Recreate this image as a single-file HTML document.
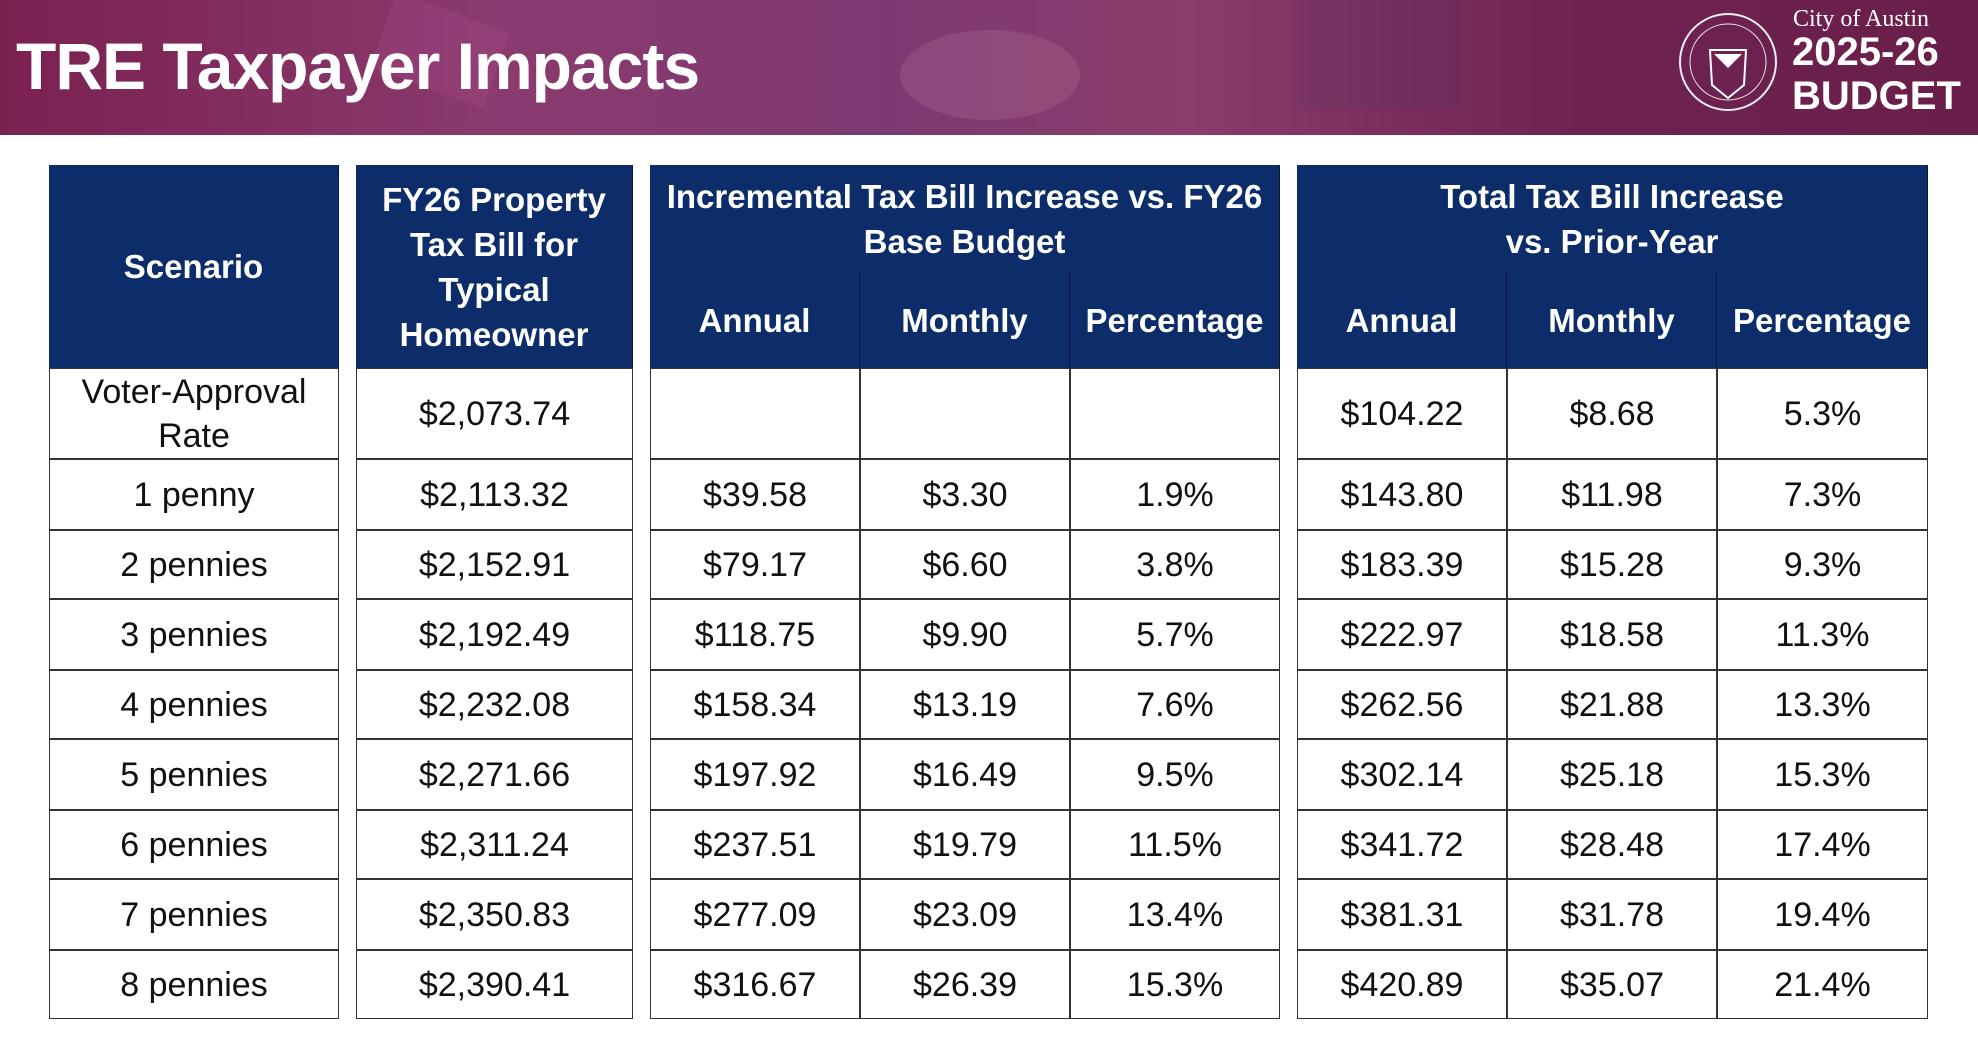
<!DOCTYPE html>
<html><head><meta charset="utf-8">
<style>
body{margin:0;width:1978px;height:1042px;background:#fff;position:relative;overflow:hidden;font-family:"Liberation Sans Narrow","Liberation Sans",sans-serif}
#banner{position:absolute;left:0;top:0;width:1978px;height:135px;background:linear-gradient(90deg,#7a2150 0%,#8a3a6e 25%,#7d3a72 45%,#8a3c6a 60%,#6e2252 80%,#6a1f4a 100%)}
#banner .tile{position:absolute;opacity:.15}
#title{position:absolute;left:16px;top:28px;color:#fff;font-family:"Liberation Sans",sans-serif;font-weight:bold;font-size:66px;letter-spacing:-1px}
.cell{position:absolute;display:flex;align-items:center;justify-content:center;text-align:center;box-sizing:border-box}
.h{background:#0c2d69;color:#fff;font-weight:bold;font-size:33px;line-height:45px}
.d{color:#111;font-size:34px;line-height:44px;border:1.5px solid #333}
</style></head><body>
<div id="banner">
<div class="tile" style="left:380px;top:10px;width:120px;height:80px;background:#c6a;transform:rotate(20deg)"></div>
<div class="tile" style="left:900px;top:30px;width:180px;height:90px;background:#dab;border-radius:50%"></div>
<div class="tile" style="left:1300px;top:0;width:160px;height:110px;background:#436;"></div>
<div id="title">TRE Taxpayer Impacts</div>
<svg style="position:absolute;left:1678px;top:10px" width="100" height="105"><circle cx="50" cy="52" r="48" fill="none" stroke="#eee" stroke-width="2"/><circle cx="50" cy="52" r="38" fill="none" stroke="#eee" stroke-width="1"/><path d="M32 40 L68 40 L66 75 L50 88 L34 75 Z" fill="none" stroke="#fff" stroke-width="2"/><path d="M36 44 L64 44 L50 58 Z" fill="#fff"/></svg>
<div style="position:absolute;left:1793px;top:6px;color:#fff;font-family:'Liberation Serif',serif;font-size:24px">City of Austin</div>
<div style="position:absolute;left:1792px;top:30px;color:#fff;font-family:'Liberation Sans',sans-serif;font-weight:bold;font-size:40px;line-height:44px">2025-26<br>BUDGET</div>
</div>
<div id="tbl"></div>
<script>
const scenarios=["Voter-Approval Rate","1 penny","2 pennies","3 pennies","4 pennies","5 pennies","6 pennies","7 pennies","8 pennies"];
const fy26Bill=["$2,073.74","$2,113.32","$2,152.91","$2,192.49","$2,232.08","$2,271.66","$2,311.24","$2,350.83","$2,390.41"];
const incAnnual=["","$39.58","$79.17","$118.75","$158.34","$197.92","$237.51","$277.09","$316.67"];
const incMonthly=["","$3.30","$6.60","$9.90","$13.19","$16.49","$19.79","$23.09","$26.39"];
const incPct=["","1.9%","3.8%","5.7%","7.6%","9.5%","11.5%","13.4%","15.3%"];
const totAnnual=["$104.22","$143.80","$183.39","$222.97","$262.56","$302.14","$341.72","$381.31","$420.89"];
const totMonthly=["$8.68","$11.98","$15.28","$18.58","$21.88","$25.18","$28.48","$31.78","$35.07"];
const totPct=["5.3%","7.3%","9.3%","11.3%","13.3%","15.3%","17.4%","19.4%","21.4%"];
const cols=[[49,339],[356,633],[650,860],[860,1070],[1070,1280],[1297,1507],[1507,1717],[1717,1928]];
const rowY=[368,459,530,599,670,739,810,879,950,1019];
const tbl=document.getElementById('tbl');
function cell(x1,y1,x2,y2,cls,txt,name){
 const c=document.createElement('div');
 c.className='cell '+cls;
 c.style.left=x1+'px';c.style.top=y1+'px';c.style.width=(x2-x1)+'px';c.style.height=(y2-y1)+'px';
 c.innerHTML=txt;
 
 
 if(cls==='h'){c.style.borderRight='1px solid #061a40';}
 tbl.appendChild(c);
}
cell(49,165,339,368,'h','Scenario','header-scenario');
cell(356,165,633,368,'h','FY26 Property<br>Tax Bill for<br>Typical<br>Homeowner','header-fy26-bill');
cell(650,165,1280,272,'h','Incremental Tax Bill Increase vs. FY26<br>Base Budget','header-incremental');
cell(1297,165,1928,272,'h','Total Tax Bill Increase<br>vs. Prior-Year','header-total');
const sub=['Annual','Monthly','Percentage'];
for(let i=0;i<3;i++){cell(cols[2+i][0],272,cols[2+i][1],368,'h',sub[i],'header-inc-'+sub[i].toLowerCase());}
for(let i=0;i<3;i++){cell(cols[5+i][0],272,cols[5+i][1],368,'h',sub[i],'header-tot-'+sub[i].toLowerCase());}
const series=[scenarios,fy26Bill,incAnnual,incMonthly,incPct,totAnnual,totMonthly,totPct];
const names=['scenario','fy26-bill','inc-annual','inc-monthly','inc-pct','tot-annual','tot-monthly','tot-pct'];
for(let r=0;r<scenarios.length;r++){
 for(let c=0;c<cols.length;c++){
  let t=series[c][r];
  if(r===0&&c===0)t='Voter-Approval<br>Rate';
  cell(cols[c][0],rowY[r],cols[c][1],rowY[r+1],'d',t,'cell-'+names[c]+'-row'+r);
 }
}
</script>
</body></html>
